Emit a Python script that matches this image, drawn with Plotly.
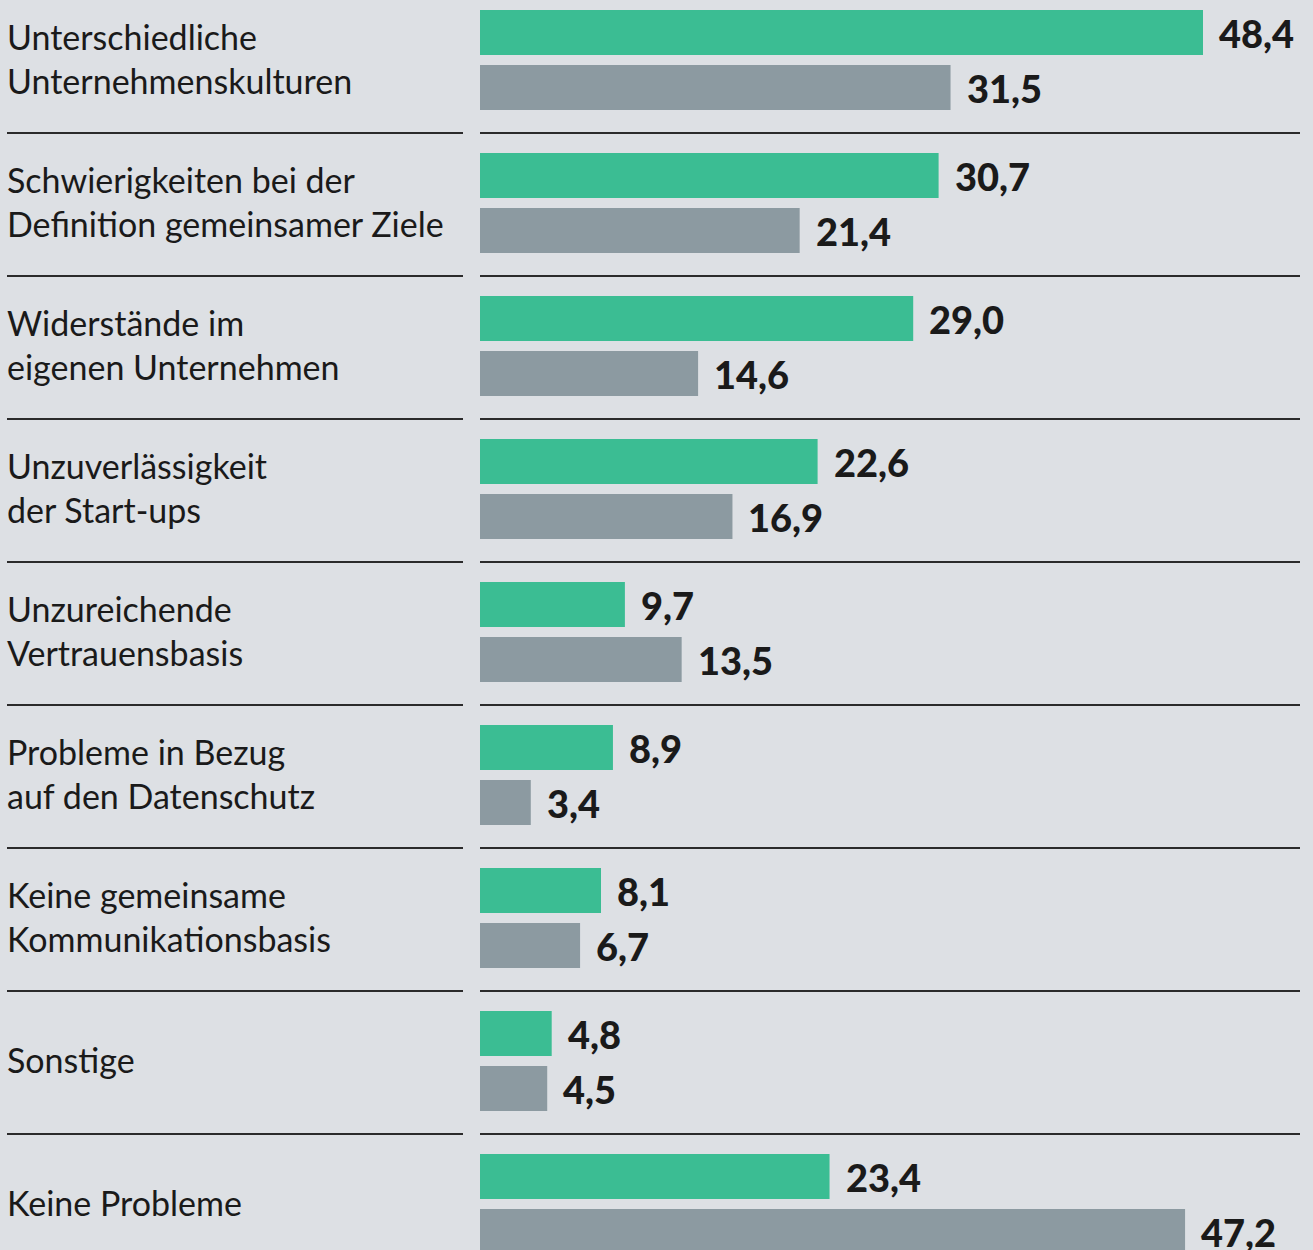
import plotly.graph_objects as go

categories = [
    "Unterschiedliche<br>Unternehmenskulturen",
    "Schwierigkeiten bei der<br>Definition gemeinsamer Ziele",
    "Widerstände im<br>eigenen Unternehmen",
    "Unzuverlässigkeit<br>der Start-ups",
    "Unzureichende<br>Vertrauensbasis",
    "Probleme in Bezug<br>auf den Datenschutz",
    "Keine gemeinsame<br>Kommunikationsbasis",
    "Sonstige",
    "Keine Probleme",
]
series_green = [48.4, 30.7, 29.0, 22.6, 9.7, 8.9, 8.1, 4.8, 23.4]
series_gray = [31.5, 21.4, 14.6, 16.9, 13.5, 3.4, 6.7, 4.5, 47.2]

W, H = 1313, 1250
PITCH = 143
BAR_H = 45
GREEN_OFF = 32.5
GRAY_OFF = 87.5
ROW_CENTER = 58
SEP_OFF = 133
X0_PX = 480
SCALE = (1203 - 480) / 48.4  # px per unit

GREEN = "#3bbd93"
GRAY = "#8c9aa1"
BG = "#dde0e4"
FONT = "Lato"

def fmt(v):
    return f"{v:.1f}".replace(".", ",")

n = len(categories)
y_green = [GREEN_OFF + PITCH * i for i in range(n)]
y_gray = [GRAY_OFF + PITCH * i for i in range(n)]

fig = go.Figure()
fig.add_trace(go.Bar(x=series_green, y=y_green, orientation="h", width=BAR_H,
                     marker=dict(color=GREEN, line=dict(width=0)), hoverinfo="skip"))
fig.add_trace(go.Bar(x=series_gray, y=y_gray, orientation="h", width=BAR_H,
                     marker=dict(color=GRAY, line=dict(width=0)), hoverinfo="skip"))

annotations = []
for i in range(n):
    annotations.append(dict(x=5 / W, xref="paper", y=ROW_CENTER + PITCH * i, yref="y",
                            text=categories[i], showarrow=False, xanchor="left", yanchor="middle",
                            align="left", font=dict(family=FONT, size=34, color="#1a1a1a")))
    for vals, ys in ((series_green, y_green), (series_gray, y_gray)):
        annotations.append(dict(x=vals[i], y=ys[i], xref="x", yref="y", text=fmt(vals[i]),
                                showarrow=False, xanchor="left", yanchor="middle", xshift=14,
                                font=dict(family=FONT, size=38, color="#1a1a1a", weight=900)))

shapes = []
for i in range(n - 1):
    yy = SEP_OFF + PITCH * i
    shapes.append(dict(type="line", xref="paper", yref="y", x0=7 / W, x1=463 / W, y0=yy, y1=yy,
                       line=dict(color="#2b2b2b", width=2)))
    shapes.append(dict(type="line", xref="paper", yref="y", x0=480 / W, x1=1300 / W, y0=yy, y1=yy,
                       line=dict(color="#2b2b2b", width=2)))

fig.update_layout(
    width=W, height=H,
    margin=dict(l=0, r=0, t=0, b=0),
    paper_bgcolor=BG, plot_bgcolor=BG,
    showlegend=False,
    barmode="overlay",
    xaxis=dict(range=[-X0_PX / SCALE, (W - X0_PX) / SCALE], visible=False, fixedrange=True),
    yaxis=dict(range=[H, 0], visible=False, fixedrange=True),
    annotations=annotations,
    shapes=shapes,
)

fig.write_html("out.html", config={"displayModeBar": False},
               post_script="document.body.style.margin='0';document.body.style.background='#dde0e4';")
